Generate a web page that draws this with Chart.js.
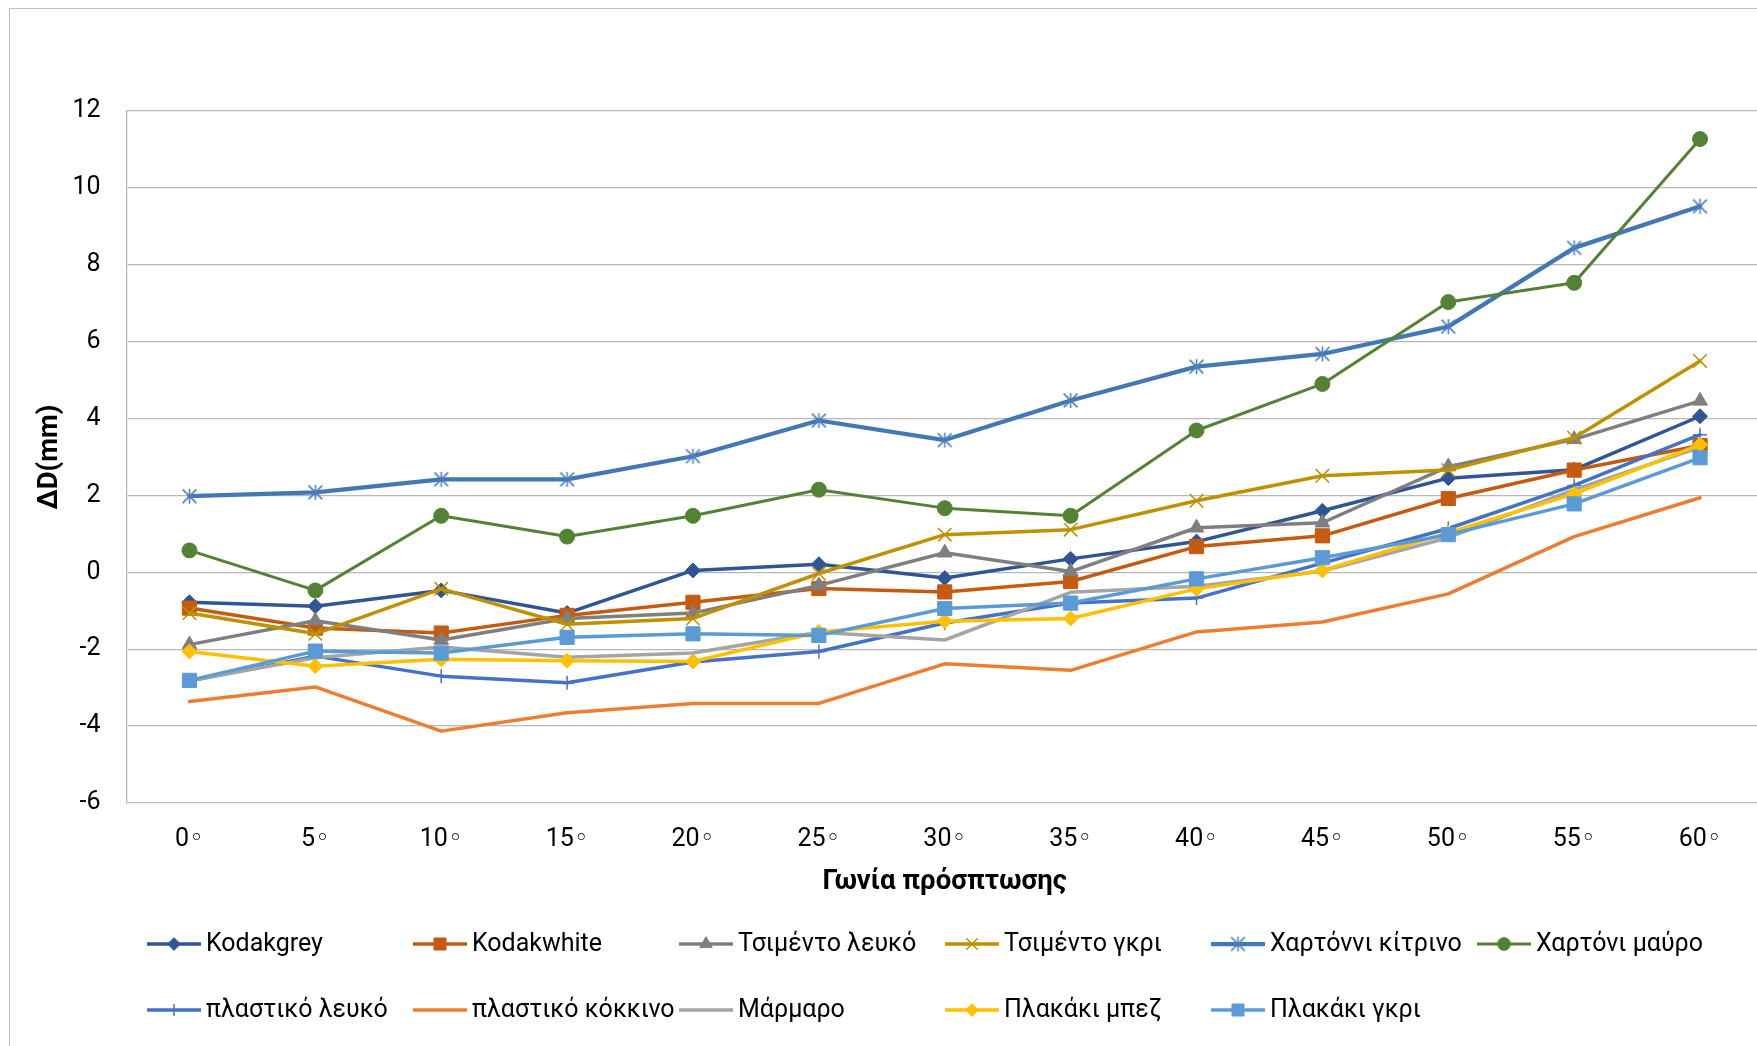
<!DOCTYPE html>
<html>
<head>
<meta charset="utf-8">
<script src="https://cdn.jsdelivr.net/npm/chart.js@4.4.1/dist/chart.umd.min.js"></script>
<style>
  html, body { margin: 0; padding: 0; width: 1757px; height: 1046px; overflow: hidden; background: #fff; }
  #frame { position: absolute; left: 9px; top: 8px; width: 1820px; height: 1120px; border: 1px solid #BFBFBF; box-sizing: border-box; }
  #wrap { position: absolute; left: 0; top: 0; width: 1790px; height: 1046px; }
  canvas { display: block; }
</style>
</head>
<body>
<div id="frame"></div>
<div id="wrap"><canvas id="chart" width="1790" height="1046"></canvas></div>
<script>
// Incidence angles (category axis)
const angles = ['0◦', '5◦', '10◦', '15◦', '20◦', '25◦', '30◦', '35◦', '40◦', '45◦', '50◦', '55◦', '60◦'];

// ΔD (mm) per material
const kodakGrey      = [-0.78, -0.88, -0.47, -1.06, 0.05, 0.21, -0.15, 0.35, 0.80, 1.60, 2.45, 2.67, 4.06];
const kodakWhite     = [-0.93, -1.45, -1.58, -1.12, -0.78, -0.42, -0.51, -0.24, 0.67, 0.95, 1.92, 2.66, 3.30];
const cementWhite    = [-1.88, -1.26, -1.76, -1.20, -1.06, -0.34, 0.51, 0.02, 1.16, 1.29, 2.75, 3.46, 4.46];
const cementGrey     = [-1.06, -1.60, -0.43, -1.35, -1.20, -0.03, 0.98, 1.11, 1.86, 2.51, 2.66, 3.50, 5.50];
const cardYellow     = [1.98, 2.08, 2.42, 2.42, 3.02, 3.95, 3.44, 4.47, 5.35, 5.68, 6.39, 8.44, 9.52];
const cardBlack      = [0.57, -0.47, 1.47, 0.93, 1.47, 2.15, 1.67, 1.47, 3.69, 4.90, 7.03, 7.53, 11.27];
const plasticWhite   = [-2.83, -2.18, -2.70, -2.87, -2.33, -2.06, -1.32, -0.80, -0.67, 0.24, 1.14, 2.26, 3.58];
const plasticRed     = [-3.36, -2.98, -4.13, -3.65, -3.41, -3.41, -2.38, -2.55, -1.55, -1.29, -0.56, 0.93, 1.94];
const marble         = [-2.82, -2.22, -1.94, -2.21, -2.10, -1.56, -1.76, -0.52, -0.36, 0.03, 0.90, 2.15, 3.25];
const tileBeige      = [-2.06, -2.44, -2.26, -2.30, -2.32, -1.55, -1.27, -1.20, -0.43, 0.05, 1.03, 2.04, 3.32];
const tileGrey       = [-2.81, -2.05, -2.10, -1.69, -1.60, -1.64, -0.94, -0.80, -0.17, 0.38, 0.98, 1.78, 2.98];

// Value axis range
const yMin = -6, yMax = 12, yStep = 2;

const FONT = 'Roboto, "Noto Sans", "DejaVu Sans", sans-serif';

// Asterisk marker: vertical bar plus an X
function makeAsterisk(color, size, lw) {
  const c = document.createElement('canvas');
  c.width = size; c.height = size;
  const g = c.getContext('2d');
  g.strokeStyle = color; g.lineWidth = lw; g.lineCap = 'butt';
  const m = size / 2, r = size / 2 - 1;
  g.beginPath();
  g.moveTo(m, m - r); g.lineTo(m, m + r);
  const d = r * 0.92;
  g.moveTo(m - d, m - d); g.lineTo(m + d, m + d);
  g.moveTo(m - d, m + d); g.lineTo(m + d, m - d);
  g.stroke();
  return c;
}
const asterisk = makeAsterisk('#4A7EBB', 17, 1.5);

function series(label, data, color, opts) {
  return Object.assign({
    label, data,
    borderColor: color,
    backgroundColor: color,
    pointBackgroundColor: color,
    pointBorderColor: color,
    borderWidth: 3.5,
    pointBorderWidth: 1,
    pointRadius: 0,
    pointHoverRadius: 0,
    pointStyle: 'circle',
    tension: 0,
    fill: false,
    borderCapStyle: 'round',
    borderJoinStyle: 'round'
  }, opts || {});
}

const datasets = [
  series('Kodakgrey', kodakGrey, '#2F5597', { pointStyle: 'rectRot', pointRadius: 7.5 }),
  series('Kodakwhite', kodakWhite, '#C55A11', { pointStyle: 'rect', pointRadius: 10 }),
  series('Τσιμέντο λευκό', cementWhite, '#7F7F7F', { pointStyle: 'triangle', pointRadius: 8.5 }),
  series('Τσιμέντο γκρι', cementGrey, '#BF9000', { pointStyle: 'crossRot', pointRadius: 9.5, pointBorderWidth: 1.5 }),
  series('Χαρτόννι κίτρινο', cardYellow, '#4279B4', { borderWidth: 4.25, pointStyle: asterisk, pointRadius: 8 }),
  series('Χαρτόνι μαύρο', cardBlack, '#548235', { borderWidth: 3, pointStyle: 'circle', pointRadius: 7.5 }),
  series('πλαστικό λευκό', plasticWhite, '#4472C4', { pointStyle: 'cross', pointRadius: 7, pointBorderWidth: 1.5 }),
  series('πλαστικό κόκκινο', plasticRed, '#ED7D31'),
  series('Μάρμαρο', marble, '#A5A5A5'),
  series('Πλακάκι μπεζ', tileBeige, '#FFC000', { pointStyle: 'rectRot', pointRadius: 7.5 }),
  series('Πλακάκι γκρι', tileGrey, '#5B9BD5', { pointStyle: 'rect', pointRadius: 10 })
];
// later series are painted over earlier ones
datasets.forEach((d, i) => { d.order = datasets.length - i; });

// Legend laid out as a fixed grid of six columns
const legendGrid = {
  id: 'legendGrid',
  afterDraw(chart) {
    const ctx = chart.ctx;
    const x0 = 147, dx = 266, y0 = 944, dy = 66, lineLen = 54;
    chart.data.datasets.forEach((ds, i) => {
      const x = x0 + (i % 6) * dx;
      const y = y0 + Math.floor(i / 6) * dy;
      ctx.save();
      ctx.strokeStyle = ds.borderColor;
      ctx.lineWidth = ds.borderWidth;
      ctx.lineCap = 'butt';
      ctx.beginPath();
      ctx.moveTo(x, y);
      ctx.lineTo(x + lineLen, y);
      ctx.stroke();
      if (ds.pointRadius > 0) {
        ctx.fillStyle = ds.pointBackgroundColor;
        ctx.strokeStyle = ds.pointBorderColor;
        ctx.lineWidth = ds.pointBorderWidth;
        Chart.helpers.drawPoint(ctx, {
          pointStyle: ds.pointStyle,
          radius: ds.pointRadius * 0.85,
          rotation: 0,
          borderWidth: ds.pointBorderWidth
        }, x + lineLen / 2, y);
      }
      ctx.fillStyle = '#000';
      ctx.font = '25px ' + FONT;
      ctx.textBaseline = 'middle';
      ctx.textAlign = 'left';
      ctx.fillText(ds.label, x + lineLen + 5, y + 1);
      ctx.restore();
    });
  }
};

const GRID = '#B8B8B8';

new Chart(document.getElementById('chart'), {
  type: 'line',
  data: { labels: angles, datasets },
  plugins: [legendGrid],
  options: {
    responsive: false,
    animation: false,
    devicePixelRatio: 1,
    layout: { padding: { top: 111, left: 0, right: 27, bottom: 0 } },
    plugins: {
      legend: { display: false },
      tooltip: { enabled: false },
      title: { display: false }
    },
    scales: {
      x: {
        type: 'category',
        offset: true,
        grid: { display: false, drawTicks: false },
        border: { display: false },
        ticks: {
          color: '#000',
          font: { family: FONT, size: 25 },
          padding: 22,
          maxRotation: 0,
          autoSkip: false
        },
        title: {
          display: true,
          text: 'Γωνία πρόσπτωσης',
          color: '#000',
          font: { family: FONT, size: 27.5, weight: 'bold' },
          padding: { top: 0, bottom: 147 }
        },
        afterFit(scale) { scale.height = 243; }
      },
      y: {
        min: yMin,
        max: yMax,
        grid: { color: GRID, lineWidth: 1.3, drawTicks: false },
        border: { display: true, color: GRID, width: 1.3 },
        ticks: {
          stepSize: yStep,
          color: '#000',
          font: { family: FONT, size: 25 },
          padding: 26
        },
        title: {
          display: true,
          text: 'ΔD(mm)',
          color: '#000',
          font: { family: FONT, size: 27.5, weight: 'bold' },
          padding: { top: 33.5, bottom: 0 }
        },
        afterFit(scale) { scale.width = 126.5; }
      }
    }
  }
});
</script>
</body>
</html>
